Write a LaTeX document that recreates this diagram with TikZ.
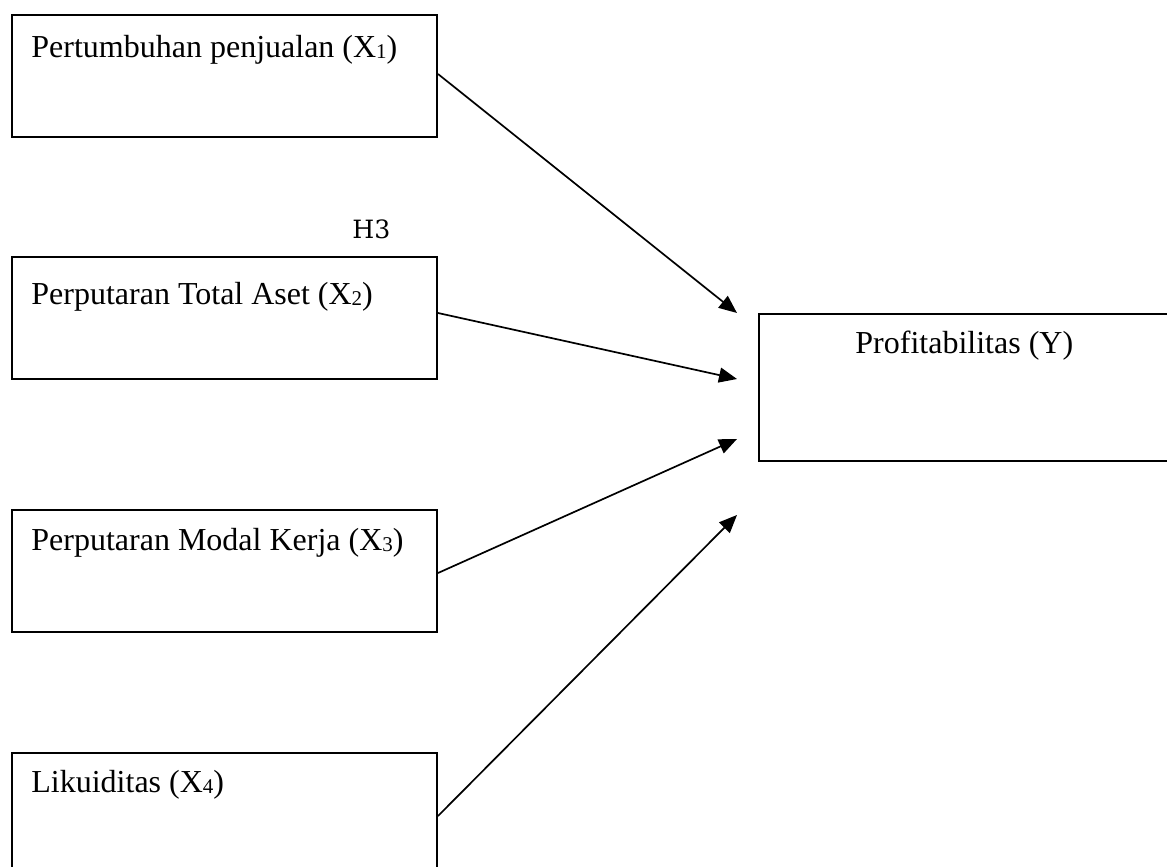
\documentclass[tikz,border=0pt]{standalone}
\usepackage{fontspec}
\setmainfont{Liberation Serif}
\newfontfamily\hfont{DejaVu Serif}
\usetikzlibrary{arrows.meta}
\newcommand{\sbx}[1]{{\fontsize{10.5}{10.5}\selectfont\raisebox{-0.7pt}{#1}}}
\begin{document}
\begin{tikzpicture}[x=0.5pt,y=-0.5pt,
  box/.style={draw,line width=1pt,anchor=north west,minimum width=212.5pt,minimum height=61pt,inner sep=0pt},
  lbl/.style={anchor=base west,inner sep=0pt,font=\fontsize{16}{19}\selectfont},
  arr/.style={line width=0.85pt,-{Triangle[length=9pt,width=7.5pt]}}]
\useasboundingbox (0,0) rectangle (1167,867);
\node[box] (b1) at (11,14) {};
\node[box] (b2) at (11,256) {};
\node[box] (b3) at (11,509) {};
\node[box,minimum height=70pt] (b4) at (11,752) {};
\node[box,minimum width=210pt,minimum height=73.5pt] (y) at (758,313) {};
\node[lbl] (t1) at (31,57) {Pertumbuhan penjualan (X\sbx{1})};
\node[lbl] (t2) at (31,304) {Perputaran Total Aset (X\sbx{2})};
\node[lbl] (t3) at (31,550) {Perputaran Modal Kerja (X\sbx{3})};
\node[lbl] (t4) at (31,792) {Likuiditas (X\sbx{4})};
\node[lbl] (ty) at (855,353) {Profitabilitas (Y)};
\node[anchor=base west,inner sep=0pt,font=\hfont\fontsize{12.6}{14}\selectfont] (h3) at (352,238) {H3};
\draw[arr] ([yshift=-30pt]b1.north east) -- ([xshift=-10.5pt]y.north west);
\draw[arr] ([yshift=-28.5pt]b2.north east) -- ([xshift=-10.5pt,yshift=-33pt]y.north west);
\draw[arr] ([yshift=-32pt]b3.north east) -- ([xshift=-10.5pt,yshift=-63pt]y.north west);
\draw[arr] ([yshift=-32pt]b4.north east) -- ([xshift=-10.5pt,yshift=-101pt]y.north west);
\end{tikzpicture}
\end{document}
